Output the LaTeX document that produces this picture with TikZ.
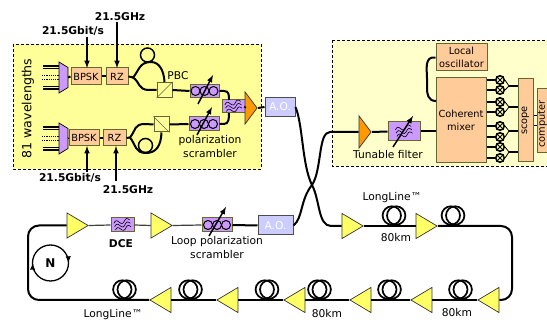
\documentclass[tikz,border=0pt]{standalone}
\usepackage{fontspec}
\setmainfont{DejaVu Sans}
\usetikzlibrary{shapes.geometric}
\definecolor{labyellow}{HTML}{FFFF99}
\definecolor{rxyellow}{HTML}{FFFFCC}
\definecolor{peach}{HTML}{FFCC99}
\definecolor{violet}{HTML}{CC99FF}
\definecolor{ampyellow}{HTML}{FFFF66}
\definecolor{ampgold}{HTML}{FF9900}
\definecolor{lavender}{HTML}{CCCCFF}
\definecolor{olive}{HTML}{666633}
\tikzset{
  lbl/.style={font=\fontsize{10.7}{13}\selectfont,align=center,inner sep=0pt},
  boldlbl/.style={lbl,font=\fontsize{10.7}{13}\selectfont\bfseries},
  labbox/.style={draw=black,densely dashed,line width=0.7pt},
  peachbox/.style={lbl,font=\fontsize{9.8}{12.5}\selectfont,draw=olive,fill=peach,line width=1pt},
  violetbox/.style={draw=olive,fill=violet,line width=1pt,inner sep=0pt},
  pbsbox/.style={draw=olive,fill=labyellow,line width=1pt,inner sep=0pt,minimum size=15pt},
  aobox/.style={lbl,draw=black!70,fill=lavender,text=white,line width=1pt,minimum height=19pt},
  fiber/.style={line width=2pt},
  thinfiber/.style={line width=1.2pt,black!75},
  sig/.style={line width=1.5pt,-latex},
  amp/.style={isosceles triangle,isosceles triangle stretches,draw=black!80,line width=0.7pt,
    fill=ampyellow,inner sep=0pt,minimum height=21pt,minimum width=25pt},
  ampback/.style={amp,shape border rotate=180},
  ampboost/.style={amp,fill=ampgold,minimum height=12pt,minimum width=32pt},
  pd/.style={circle,draw=black,line width=1.6pt,fill=labyellow,inner sep=0pt,minimum size=8.5pt}
}
\newcommand{\wavelines}[1]{%
  \foreach \dy in {-3.5,0,3.5}{
    \draw[line width=0.6pt,shift={(#1)},rotate=12] (-8,\dy) sin (-5.3,\dy-2) cos (-2.7,\dy) sin (0,\dy+2)
      cos (2.7,\dy) sin (5.3,\dy-2) cos (8,\dy);}}
\newcommand{\polcoils}[1]{%
  \foreach \dx in {-9,0,9}{\draw[line width=1pt] (#1) ++(\dx,0) circle (4.5);}}
\begin{document}
\begin{tikzpicture}[x=1pt,y=-1pt]
\clip (0,0) rectangle (547,320);
\fill[white] (0,0) rectangle (547,320);

% Transmitter and receiver backgrounds.
\fill[labyellow] (13,44) rectangle (261,169);
\draw[labbox] (13,44) rectangle (261,169);
\fill[rxyellow] (332,40) rectangle (560,166);
\draw[labbox] (332,40) rectangle (560,166);
\node[lbl,font=\fontsize{12.6}{14}\selectfont,rotate=90] (wavel) at (28,108.5) {81 wavelengths};

% Laser multiplexers.
\foreach \ym/\nm in {77.5/muxA,138.5/muxB}{
  \foreach \dy in {-11.5,-9,9,11.5}{\draw[line width=1.2pt] (43,\ym+\dy) -- (59,\ym+\dy);}
  \foreach \dy in {-2,2}{\draw[line width=1.2pt,densely dotted] (42,\ym+\dy) -- (59,\ym+\dy);}
  \draw[fill=violet,draw=black,line width=0.7pt] (59,\ym-15.5) -- (68,\ym-10) -- (68,\ym+10) -- (59,\ym+15.5) -- cycle;
  \coordinate (\nm) at (68,\ym);
}

% Upper modulator branch.
\node[peachbox,minimum width=30pt,minimum height=17pt] (bpskA) at (86,76.5) {BPSK};
\node[peachbox,minimum width=22pt,minimum height=17pt] (rzA) at (117,76.5) {RZ};
\node[pbsbox] (pbsA) at (164.5,90) {};
\draw[line width=0.7pt,olive] (pbsA.south west) -- (pbsA.north east);
\node[circle,draw=black,line width=1.5pt,minimum size=14pt,inner sep=0pt] (loopA) at (147.5,55) {};
\node[violetbox,minimum width=29pt,minimum height=13pt] (scrA) at (204.5,91) {};
\polcoils{scrA}
\node[lbl] (pbclabel) at (178,76) {PBC};

% Lower modulator branch.
\node[peachbox,minimum width=30pt,minimum height=16pt] (bpskB) at (84,138) {BPSK};
\node[peachbox,minimum width=23pt,minimum height=16pt] (rzB) at (114.5,138) {RZ};
\node[pbsbox] (pbsB) at (161.5,124.5) {};
\draw[line width=0.7pt,olive] (pbsB.north west) -- (pbsB.south east);
\node[circle,draw=black,line width=1.5pt,minimum size=14pt,inner sep=0pt] (loopB) at (145.5,145.5) {};
\node[violetbox,minimum width=30pt,minimum height=14pt] (scrB) at (204,124) {};
\polcoils{scrB}
\node[lbl] (scrlabel) at (210,147) {polarization\\[1pt]scrambler};

% Combiner, booster and modulator.
\node[violetbox,minimum width=23pt,minimum height=13pt] (combA) at (233.5,106.5) {};
\wavelines{combA}
\node[ampboost,anchor=apex] (boostA) at (258,108) {};
\node[aobox,minimum width=30pt] (aoA) at (280,107) {A.O.};

\draw[fiber] (muxA) -- (bpskA.west);
\draw[fiber] (bpskA.east) -- (rzA.west);
\draw[fiber] (muxB) -- (bpskB.west);
\draw[fiber] (bpskB.east) -- (rzB.west);
\draw[fiber] (rzA.east) -- (133,77.5) .. controls (139,71) and (139,62) .. (151,62) .. controls (160,62) and (164,72) .. (pbsA.north);
\draw[fiber] (133,77.5) .. controls (140,82) and (138,90) .. (149,90) -- (pbsA.west);
\draw[fiber] (pbsA.east) -- (scrA.west);
\draw[fiber] (rzB.east) -- (130,137.5) .. controls (136,130) and (134,124) .. (145,124) -- (pbsB.west);
\draw[fiber] (130,137.5) .. controls (136,145) and (135,153) .. (146,153) .. controls (156,153) and (161,146) .. (pbsB.south);
\draw[fiber] (pbsB.east) -- (scrB.west);
\draw[fiber] (scrA.east) -- (224,91) .. controls (229,91) and (229,95) .. (229,100);
\draw[fiber] (scrB.east) -- (224,124) .. controls (229,124) and (229,118) .. (229,113);
\draw[fiber] (combA.east) -- (boostA.west);
\draw[fiber] (boostA.apex) -- (aoA.west);
\draw[sig] (198,104) -- (213,75);
\draw[sig] (197,135) -- (212,107);

% Drive signals.
\node[boldlbl] (dataA) at (73,30.5) {21.5Gbit/s};
\node[boldlbl] (clockA) at (120,17) {21.5GHz};
\node[boldlbl] (dataB) at (70,178) {21.5Gbit/s};
\node[boldlbl] (clockB) at (128,190) {21.5GHz};
\draw[sig] (87,37) -- (87,68);
\draw[sig] (117,22) -- (117,68);
\draw[sig] (87,172) -- (87,146);
\draw[sig] (116,181) -- (116,146);

% Recirculating loop, upper run.
\node[amp,anchor=apex] (ampA) at (89,225.5) {};
\node[violetbox,minimum width=23pt,minimum height=14pt] (dce) at (122.5,225) {};
\wavelines{dce}
\node[boldlbl] (dcelabel) at (121,244) {DCE};
\node[amp,anchor=apex] (ampB) at (173,225.5) {};
\node[violetbox,minimum width=30pt,minimum height=14pt] (scrL) at (217,225) {};
\polcoils{scrL}
\draw[sig] (209,236) -- (226,207);
\node[lbl] (scrLlabel) at (217,248) {Loop polarization\\[1pt]scrambler};
\node[aobox,minimum width=35pt] (aoB) at (275.5,225.5) {A.O.};
\node[amp,anchor=apex] (ampC) at (364,226) {};
\node[amp,anchor=apex] (ampD) at (438,226) {};

% Recirculating loop, lower run.
\node[ampback,anchor=apex] (ampE) at (477,300) {};
\node[ampback,anchor=apex] (ampF) at (410,300) {};
\node[ampback,anchor=apex] (ampG) at (349,300) {};
\node[ampback,anchor=apex] (ampH) at (283,300) {};
\node[ampback,anchor=apex] (ampI) at (216,300) {};
\node[ampback,anchor=apex] (ampJ) at (149,300) {};

% Fibre coils.
\foreach \cx/\cy in {394/215.5,453/215.5,460.5/289.5,389.5/289.5,319.5/289.5,267/289.5,190.5/289.5,124.5/289.5}{
  \draw[line width=1.7pt] (\cx-2.2,\cy) circle (9.2);
  \draw[line width=1.7pt] (\cx+2.2,\cy) circle (9.2);
}

\draw[thinfiber] (ampA.apex) -- (dce.west);
\draw[thinfiber] (dce.east) -- (ampB.west);
\draw[thinfiber] (ampB.apex) -- (scrL.west);
\draw[fiber] (scrL.east) -- (aoB.west);
\draw[fiber] (ampC.apex) -- (ampD.west);
\draw[fiber,rounded corners=11pt] (ampD.apex) -- (512,226) -- (512,300) -- (ampE.east);
\draw[fiber] (ampE.apex) -- (ampF.east);
\draw[fiber] (ampF.apex) -- (ampG.east);
\draw[fiber] (ampG.apex) -- (ampH.east);
\draw[fiber] (ampH.apex) -- (ampI.east);
\draw[fiber] (ampI.apex) -- (ampJ.east);
\draw[fiber,rounded corners=11pt] (ampJ.apex) -- (28,300) -- (28,225.5) -- (ampA.west);

% Crossing between the two modulators.
\draw[fiber] (aoA.east) .. controls (303,125) and (302,165) .. (312,185) .. controls (320,200) and (318,226) .. (331,226) -- (ampC.west);

% Span labels.
\node[lbl] (spanA) at (392,198) {LongLine™};
\node[lbl] (spanB) at (396,238) {80km};
\node[lbl] (spanC) at (457,313) {80km};
\node[lbl] (spanD) at (327,314) {80km};
\node[lbl] (spanE) at (113,315) {LongLine™};

% Loop direction.
\node[circle,draw=black,line width=1.3pt,minimum size=36pt,inner sep=0pt,font=\fontsize{12}{14}\selectfont\bfseries] (turns) at (50.5,263) {N};
\draw[line width=1.3pt,-latex] (68.3,257) -- (68.6,263);
\draw[line width=1.3pt,-latex] (32.5,269) -- (32.7,263);

% Receiver.
\node[ampboost,anchor=apex] (boostB) at (372,132) {};
\node[violetbox,minimum width=32pt,minimum height=19pt] (tunable) at (404,131.5) {};
\wavelines{tunable}
\node[lbl] (tunablelabel) at (388,154.5) {Tunable filter};
\node[peachbox,minimum width=51pt,minimum height=27pt] (local) at (461.5,57.5) {Local\\oscillator};
\node[peachbox,minimum width=50pt,minimum height=85pt] (mixer) at (461,120.5) {Coherent\\mixer};
\node[peachbox,minimum width=15pt,minimum height=83pt] (scope) at (525.5,120.5) {\rotatebox{90}{scope}};
\node[peachbox,minimum width=24pt,minimum height=64pt] (computer) at (549,121) {};
\node[lbl,font=\fontsize{9.8}{12}\selectfont,rotate=90] (computerlabel) at (542.5,124) {computer};

\draw[fiber] (aoB.east) .. controls (303,218) and (300,200) .. (312,185) .. controls (322,170) and (318,132) .. (330,132) -- (boostB.west);
\draw[fiber] (boostB.apex) -- (tunable.west);
\draw[fiber] (tunable.east) -- (mixer.west |- tunable);
\draw[sig] (393,147) -- (413,116);
\draw[fiber] (local.west) .. controls (424,56) and (427,70) .. (427,78) -- (427,88) .. controls (427,94) and (428,101) .. (436,101);
\draw[line width=1pt] (scope.east |- 0,116) -- (computer.west |- 0,116);
\draw[line width=1pt] (scope.east |- 0,126) -- (computer.west |- 0,126);

% Balanced detector pairs.
\foreach \i/\yu/\yl/\ym in {1/80/90/86,2/102/112/107,3/126/137/131,4/147/158/152}{
  \draw[fiber] (mixer.east |- 0,\yu) -- (500,\yu);
  \draw[fiber] (mixer.east |- 0,\yl) -- (500,\yl);
  \node[pd] (pd\i u) at (500,\yu) {};
  \node[pd] (pd\i l) at (500,\yl) {};
  \draw[line width=0.8pt] (pd\i u.north west) -- (pd\i u.south east) (pd\i u.north east) -- (pd\i u.south west);
  \draw[line width=0.8pt] (pd\i l.north west) -- (pd\i l.south east) (pd\i l.north east) -- (pd\i l.south west);
  \coordinate (sum\i) at (509,\ym);
  \draw[line width=0.8pt] (pd\i u.east) -- (sum\i) -- (pd\i l.east);
  \draw[fiber] (sum\i) -- (scope.west |- sum\i);
}
\end{tikzpicture}
\end{document}
